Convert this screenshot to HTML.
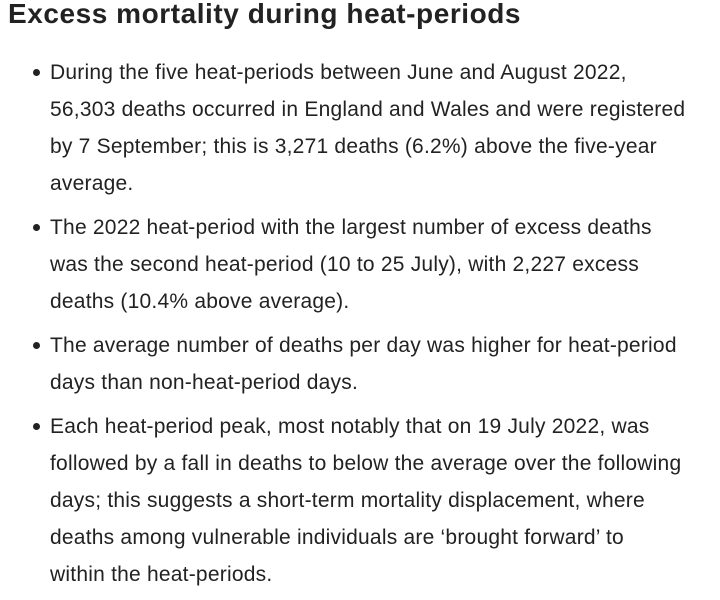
<!DOCTYPE html>
<html><head><meta charset="utf-8"><style>
body{margin:0;width:720px;height:588px;background:#fff;color:#222;font-family:"Liberation Sans",sans-serif;overflow:hidden}
h2{position:absolute;left:8px;top:-2px;margin:0;font-size:28px;line-height:32px;font-weight:bold;color:#222;letter-spacing:0.55px}
ul{position:absolute;left:0;top:54px;margin:0;padding:0;list-style:none}
li{position:relative;padding-left:50px;font-size:21px;line-height:37px;margin-bottom:7px;white-space:nowrap;letter-spacing:0.22px}
li::before{content:"";position:absolute;left:33px;top:15px;width:7px;height:7px;border-radius:50%;background:#222}
</style></head><body>
<h2>Excess mortality during heat-periods</h2>
<ul>
<li>During the five heat-periods between June and August 2022,<br>56,303 deaths occurred in England and Wales and were registered<br>by 7 September; this is 3,271 deaths (6.2%) above the five-year<br>average.</li>
<li>The 2022 heat-period with the largest number of excess deaths<br>was the second heat-period (10 to 25 July), with 2,227 excess<br>deaths (10.4% above average).</li>
<li>The average number of deaths per day was higher for heat-period<br>days than non-heat-period days.</li>
<li>Each heat-period peak, most notably that on 19 July 2022, was<br>followed by a fall in deaths to below the average over the following<br>days; this suggests a short-term mortality displacement, where<br>deaths among vulnerable individuals are ‘brought forward’ to<br>within the heat-periods.</li>
</ul>
</body></html>
